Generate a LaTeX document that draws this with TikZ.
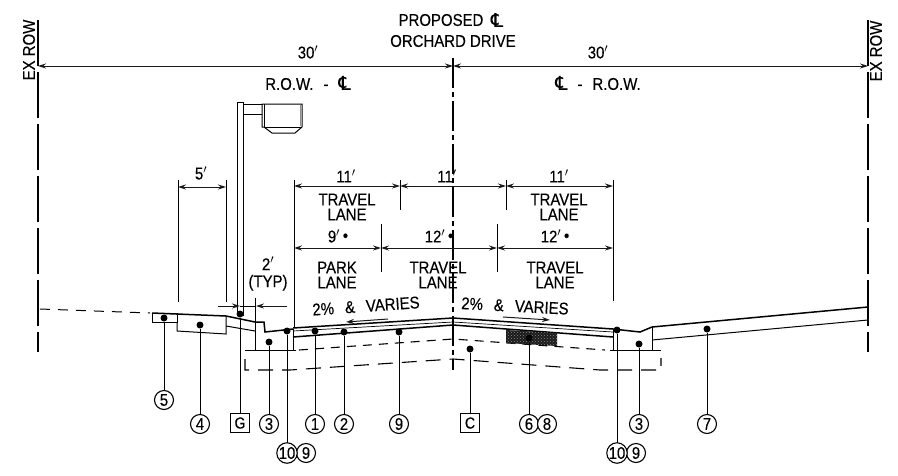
\documentclass[tikz,border=0pt]{standalone}
\usepackage{fontspec}
\setmainfont[FakeStretch=0.88,FakeBold=0.25]{Liberation Sans}
\newfontfamily\djv[FakeBold=0.25]{DejaVu Sans}
\usetikzlibrary{arrows.meta,patterns}
\newcommand{\CLsym}{{\djv\fontsize{19}{19}\selectfont\char"2104}}
\newcommand{\ftm}{$'$}
\tikzset{
  x=1pt,y=-1pt,
  base/.style={line width=1pt,black},
  lbl/.style={inner sep=0pt,outer sep=0pt,align=center,font=\fontsize{17}{15}\selectfont,text=black},
  dim/.style={line width=1pt,black!90,{Stealth[length=8pt,width=5pt]}-{Stealth[length=8pt,width=5pt]}},
  arr/.style={line width=1pt,black!90,-{Stealth[length=8pt,width=5pt]}},
  ext/.style={line width=1pt,black},
  row/.style={line width=1.1pt,black,dash pattern=on 46pt off 6pt},
  cl/.style={line width=1.2pt,black,dash pattern=on 30pt off 4pt on 5pt off 4pt},
  dashA/.style={line width=1.1pt,black,dash pattern=on 9pt off 7pt},
  dashB/.style={line width=1.1pt,black,dash pattern=on 15pt off 9pt},
  dashC/.style={line width=1pt,black,dash pattern=on 10pt off 8pt},
  spot/.style={circle,fill=black,inner sep=0pt,minimum size=7pt,outer sep=0pt},
  num/.style={circle,draw=black,fill=white,line width=1.1pt,inner sep=0pt,minimum size=19pt,outer sep=0pt,font=\fontsize{17}{17}\selectfont},
  boxn/.style={rectangle,draw=black,fill=white,line width=1.1pt,inner sep=0pt,minimum size=19pt,outer sep=0pt,font=\fontsize{16}{16}\selectfont},
  lead/.style={line width=1pt,black},
  thick road/.style={line width=1.5pt,black},
}
\begin{document}
\begin{tikzpicture}
\useasboundingbox (0,0) rectangle (898,475);
\fill[white] (0,0) rectangle (898,475);

% ROW lines and centerline
\coordinate (rlt) at (38,20); \coordinate (rlb) at (38,352);
\coordinate (rrt) at (868,20); \coordinate (rrb) at (868,352);
\coordinate (clt) at (453,58); \coordinate (clb) at (453,370);
\draw[row] (rlt) -- (rlb);
\draw[row] (rrt) -- (rrb);
\draw[cl] (clt) -- (clb);

% top dimension
\coordinate (dl) at (38,66); \coordinate (dm) at (453,66); \coordinate (dr) at (868,66);
\draw[dim] (dl) -- (dm);
\draw[dim] (dm) -- (dr);

\node[lbl] (t1) at (441,20) {PROPOSED};
\node[lbl] (t1b) at (497,20) {\CLsym};
\node[lbl] (t2) at (453,41) {ORCHARD DRIVE};
\node[lbl] (t3) at (308,52) {30\ftm};
\node[lbl] (t4) at (598,52) {30\ftm};
\node[lbl] (t5) at (308,83) {R.O.W.\hspace{10pt}-\hspace{10pt}\CLsym};
\node[lbl] (t6) at (598,83) {\CLsym\hspace{10pt}-\hspace{10pt}R.O.W.};
\node[lbl,rotate=90] (t7) at (29,50) {EX ROW};
\node[lbl,rotate=90] (t8) at (876,51) {EX ROW};

% lamp
\draw[base] (237,316) -- (237,102) -- (243,102) -- (243,316);
\draw[base] (243,104) -- (262,104) (243,114) -- (262,114);
\draw[base] (262,104) -- (302,104) -- (302,127) -- (295,133) -- (272,133) -- (264,127) -- (262,127) -- cycle;
\draw[base] (264,104) -- (264,127) -- (302,127);
\draw[black!45,line width=0.7pt] (300,105) -- (300,126);

% 5' dim
\coordinate (a1t) at (178,180); \coordinate (a1b) at (178,302);
\coordinate (a2t) at (226,180); \coordinate (a2b) at (226,302);
\draw[ext] (a1t) -- (a1b);
\draw[ext] (a2t) -- (a2b);
\coordinate (a1d) at (178,187); \coordinate (a2d) at (226,187);
\draw[dim] (a1d) -- (a2d);
\node[lbl] (t9) at (201,173) {5\ftm};

% lane dims
\coordinate (b1t) at (294,180); \coordinate (b1b) at (294,327);
\coordinate (b4t) at (613,180); \coordinate (b4b) at (613,301);
\coordinate (b2t) at (400,180); \coordinate (b2b) at (400,210);
\coordinate (b3t) at (506,180); \coordinate (b3b) at (506,210);
\draw[ext] (b1t) -- (b1b);
\draw[ext] (b4t) -- (b4b);
\draw[ext] (b2t) -- (b2b);
\draw[ext] (b3t) -- (b3b);
\coordinate (c1) at (294,186); \coordinate (c2) at (400,186); \coordinate (c3) at (506,186); \coordinate (c4) at (613,186);
\draw[dim] (c1) -- (c2);
\draw[dim] (c2) -- (c3);
\draw[dim] (c3) -- (c4);
\coordinate (e2t) at (381,224); \coordinate (e2b) at (381,272);
\coordinate (e3t) at (497,224); \coordinate (e3b) at (497,272);
\draw[ext] (e2t) -- (e2b);
\draw[ext] (e3t) -- (e3b);
\coordinate (f1) at (294,248); \coordinate (f2) at (381,248); \coordinate (f3) at (497,248); \coordinate (f4) at (613,248);
\draw[dim] (f1) -- (f2);
\draw[dim] (f2) -- (f3);
\draw[dim] (f3) -- (f4);

\node[lbl] (l1) at (346,176) {11\ftm};
\node[lbl] (l2) at (447,176) {11\ftm};
\node[lbl] (l3) at (559,176) {11\ftm};
\node[lbl] (l4) at (347,207) {TRAVEL\\LANE};
\node[lbl] (l5) at (559,207) {TRAVEL\\LANE};
\node[lbl] (l6) at (338,236) {9\ftm\,\raisebox{1pt}{\textbullet}};
\node[lbl] (l7) at (439,236) {12\ftm\,\raisebox{1pt}{\textbullet}};
\node[lbl] (l8) at (555,236) {12\ftm\,\raisebox{1pt}{\textbullet}};
\node[lbl] (l9) at (337,275) {PARK\\LANE};
\node[lbl] (l10) at (438,275) {TRAVEL\\LANE};
\node[lbl] (l11) at (555,275) {TRAVEL\\LANE};
\node[lbl] (l12) at (268,274) {2\ftm\\[2pt](TYP)};
\node[lbl,rotate=4] (l13) at (366,306) {2\%\hspace{11pt}\&\hspace{11pt}VARIES};
\node[lbl,rotate=-3] (l14) at (515,306) {2\%\hspace{11pt}\&\hspace{11pt}VARIES};

% slope arrows
\coordinate (s1) at (388,319); \coordinate (s2) at (346,322);
\coordinate (s3) at (503,317); \coordinate (s4) at (550,320);
\draw[arr] (s1) -- (s2);
\draw[arr] (s3) -- (s4);

% 2' dim
\coordinate (g1) at (218,306); \coordinate (g2) at (240,306);
\coordinate (g3) at (287,306); \coordinate (g4) at (256,306);
\coordinate (g5) at (255,298);\coordinate (g6) at (255,322);
\draw[arr] (g1) -- (g2);
\draw[arr] (g3) -- (g4);
\draw[lead] (g2) -- (g4);
\draw[ext] (g5) -- (g6);

% ground left
\draw[dashC] (40,309) -- (150,313);
\draw[thick road] (152,313) -- (226,316) -- (255,322) -- (264,322) -- (265,332) -- (293,329);
\draw[base] (152,313) -- (152,322) -- (177,322) -- (177,313);
\draw[base] (177,322) -- (177,331) -- (226,334) -- (226,316);
\draw[base] (226,326) -- (255,331);
\draw[base] (255,322) -- (255,350);
\draw[base] (245,350) -- (296,350);
\draw[base] (293,329) -- (293,350);

% road
\draw[thick road] (293,328) -- (453,318) -- (613,329);
\draw[line width=0.7pt,black] (293,331) -- (453,322) -- (613,332);
\draw[thick road] (293,337) -- (453,325) -- (613,337);

% subbase dashes
\draw[dashA] (299,350) -- (453,339) -- (605,350);
\draw[dashB] (245,359) -- (245,370) -- (290,370) -- (453,359) -- (600,370) -- (661,370) -- (661,358);

% right curb
\draw[thick road] (613,329) -- (640,332) -- (652,327) -- (868,307);
\draw[base] (613,329) -- (613,350);
\draw[base] (652,327) -- (652,350);
\draw[base] (610,350) -- (661,350);
\draw[base] (652,340) -- (868,320);

% hatch
\fill[black!90] (506,330) -- (557,333) -- (557,346) -- (506,343) -- cycle;
\fill[pattern=crosshatch dots,pattern color=black!45] (506,330) -- (557,333) -- (557,346) -- (506,343) -- cycle;

% item leaders
\node[spot] (d5) at (164,318) {};  \node[num] (n5) at (164,400) {5};
\node[spot] (d4) at (200,325) {};  \node[num] (n4) at (200,424) {4};
\node[spot] (dG) at (240,314) {};  \node[boxn] (nG) at (240,423) {G};
\node[spot] (d3) at (269,342) {};  \node[num] (n3) at (269,424) {3};
\node[spot] (d10) at (287,331) {}; \node[num] (n9a) at (306,453) {9};
\node[num] (n10) at (287,453) {10};
\node[spot] (d1) at (315,331) {};  \node[num] (n1) at (315,424) {1};
\node[spot] (d2) at (344,332) {};  \node[num] (n2) at (344,424) {2};
\node[spot] (d9) at (399,332) {};  \node[num] (n9) at (399,424) {9};
\node[spot] (dC) at (470,349) {};  \node[boxn] (nC) at (470,423) {C};
\node[spot] (d6) at (529,338) {};  \node[num] (n6) at (529,424) {6};
\node[num] (n8) at (547,424) {8};
\node[spot] (d3b) at (639,344) {}; \node[num] (n3b) at (639,424) {3};
\node[spot] (d10b) at (617,330) {}; \node[num] (n9b) at (636,453) {9};
\node[num] (n10b) at (617,453) {10};
\node[spot] (d7) at (707,329) {};  \node[num] (n7) at (707,424) {7};
\foreach \a/\b in {d5/n5,d4/n4,dG/nG,d3/n3,d10/n10,d1/n1,d2/n2,d9/n9,dC/nC,d6/n6,d3b/n3b,d10b/n10b,d7/n7}
  \draw[lead] (\a) -- (\b);
\end{tikzpicture}
\end{document}
